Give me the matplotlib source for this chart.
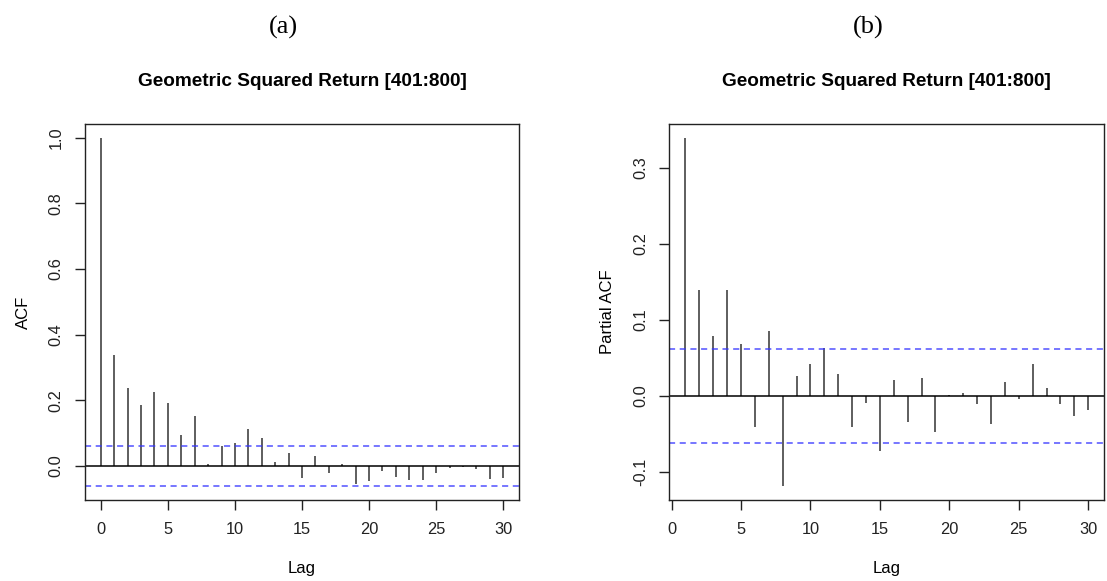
import matplotlib.pyplot as plt

# ACF values, lags 0..30
acf_lags = list(range(0, 31))
acf_vals = [1.0, 0.339, 0.238, 0.186, 0.224, 0.192, 0.094, 0.152, 0.007, 0.061,
            0.069, 0.111, 0.084, 0.013, 0.038, -0.036, 0.029, -0.023, 0.007, -0.054,
            -0.046, -0.017, -0.034, -0.042, -0.042, -0.023, -0.005, -0.004, -0.011, -0.039,
            -0.036]

# PACF values, lags 1..30
pacf_lags = list(range(1, 31))
pacf_vals = [0.340, 0.139, 0.079, 0.140, 0.068, -0.041, 0.085, -0.119, 0.026, 0.042,
             0.063, 0.029, -0.041, -0.009, -0.072, 0.021, -0.034, 0.023, -0.048, 0.001,
             0.0035, -0.010, -0.037, 0.018, -0.0035, 0.042, 0.010, -0.011, -0.027, -0.018]

ci = 0.062
titolo = "Geometric Squared Return [401:800]"

plt.rcParams['font.family'] = ['Liberation Sans', 'DejaVu Sans']

fig = plt.figure(figsize=(11.07, 5.81), dpi=100)
ax1 = fig.add_axes([0.0765, 0.1394, 0.3926, 0.6472])
ax2 = fig.add_axes([0.6046, 0.1394, 0.3930, 0.6472])


def stile(ax, lags, vals, ylab, xlim, ylim, yticks):
    ax.vlines(lags, 0, vals, color="#333333", linewidth=1.1)
    ax.axhline(0, color="black", linewidth=1.1)
    ax.axhline(ci, color="#3333ff", linestyle=(0, (4, 3)), linewidth=1.1, alpha=0.85)
    ax.axhline(-ci, color="#3333ff", linestyle=(0, (4, 3)), linewidth=1.1, alpha=0.85)
    ax.set_xlim(*xlim)
    ax.set_ylim(*ylim)
    ax.set_xticks([0, 5, 10, 15, 20, 25, 30])
    ax.set_yticks(yticks)
    ax.set_yticklabels([f"{t:.1f}" for t in yticks], rotation=90, va="center")
    ax.tick_params(direction="out", length=7, width=1, labelsize=11.8,
                   colors="#222222", pad=9)
    ax.tick_params(axis="y", pad=8)
    for s in ax.spines.values():
        s.set_linewidth(1)
        s.set_color("#222222")
    ax.set_xlabel("Lag", fontsize=12, labelpad=17)
    ax.set_ylabel(ylab, fontsize=12, labelpad=13)
    ax.set_title(titolo, fontsize=13.7, fontweight="bold", pad=27)


stile(ax1, acf_lags, acf_vals, "ACF", (-1.2, 31.2), (-0.104, 1.042),
      [0.0, 0.2, 0.4, 0.6, 0.8, 1.0])
stile(ax2, pacf_lags, pacf_vals, "Partial ACF", (-0.16, 31.16), (-0.137, 0.358),
      [-0.1, 0.0, 0.1, 0.2, 0.3])

fig.text(0.256, 0.953, "(a)", fontsize=19, family="Liberation Serif", ha="center", va="center")
fig.text(0.784, 0.953, "(b)", fontsize=19, family="Liberation Serif", ha="center", va="center")

fig.savefig("out.png", dpi=100)
